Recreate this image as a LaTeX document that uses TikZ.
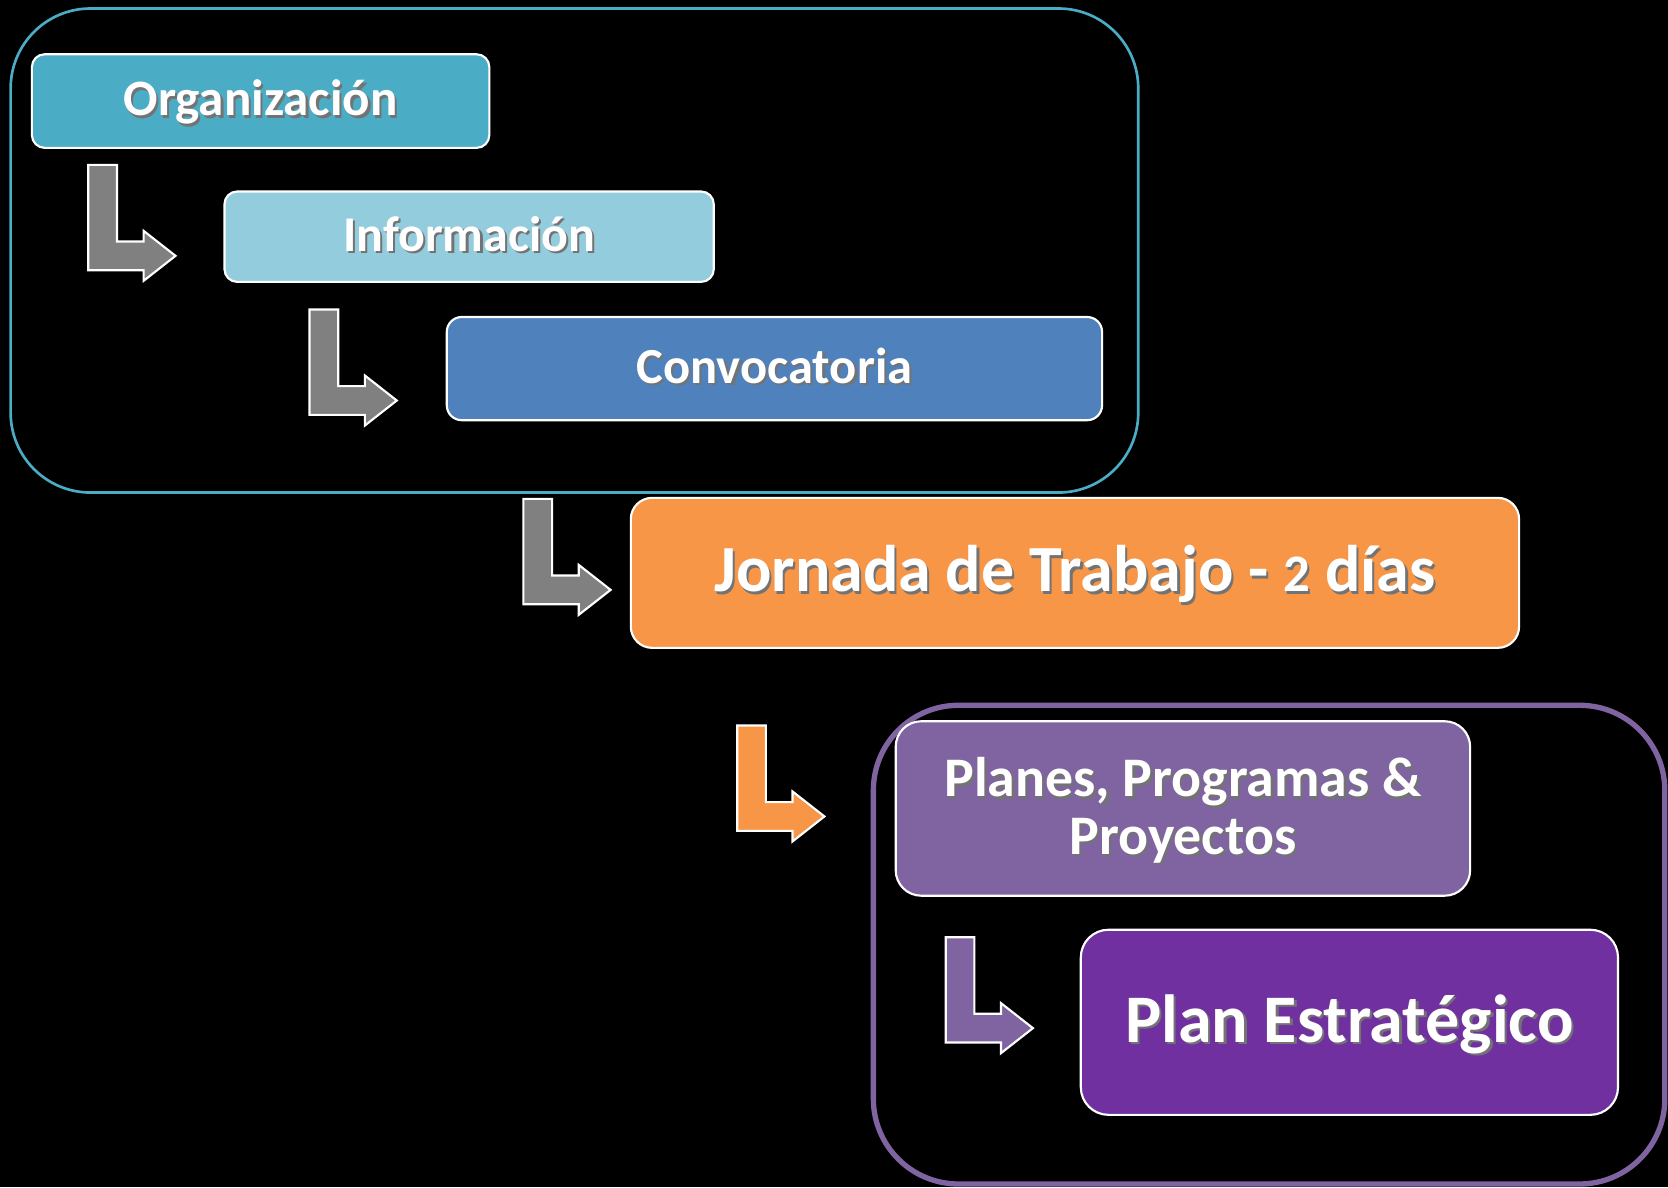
\documentclass[tikz,border=0pt]{standalone}
\usepackage{fontspec}
\setmainfont{Carlito}
\definecolor{orgc}{HTML}{4BACC6}
\definecolor{infc}{HTML}{93CDDD}
\definecolor{conc}{HTML}{4F81BD}
\definecolor{jorc}{HTML}{F79646}
\definecolor{plac}{HTML}{8064A2}
\definecolor{estc}{HTML}{7030A0}
\definecolor{arrgray}{HTML}{808080}
\newcommand\shtext[1]{\leavevmode\rlap{\hspace{2.2pt}\raisebox{-2.2pt}{\textcolor{black!55}{#1}}}#1}
\newcommand\oldtwo{\scalebox{0.8}{2}}
\begin{document}
\begin{tikzpicture}[x=1pt,y=-1pt,
  stepbox/.style={draw=white, line width=2pt, text=white, inner sep=0pt, align=center},
  groupbox/.style={line width=#1},
  pics/bentarrow/.style={code={
    \filldraw[fill=#1, draw=white, line width=2pt, line join=miter]
      (0,0) -- (27,0) -- (27,72) -- (52,72) -- (52,62) -- (82,85.5) -- (52,109) -- (52,99) -- (0,99) -- cycle;}}]
\fill[black] (0,0) rectangle (1568,1116);
\useasboundingbox (0,0) rectangle (1568,1116);
% group frames
\draw[orgc, groupbox=2.5pt, rounded corners=75pt] (10,8) rectangle (1070,463);
\draw[plac, groupbox=5pt, rounded corners=80pt] (821,663) rectangle (1565,1113);
% steps
\node[stepbox, fill=orgc, minimum width=430pt, minimum height=88pt, rounded corners=12pt,
  font=\bfseries\fontsize{48}{52}\selectfont, text height=32.6pt, text depth=4.8pt] (org) at (245,95) {\shtext{Organización}};
\node[stepbox, fill=infc, minimum width=460pt, minimum height=85pt, rounded corners=12pt,
  font=\bfseries\fontsize{47}{52}\selectfont, text height=32pt, text depth=4.7pt] (inf) at (441,222.5) {\shtext{Información}};
\node[stepbox, fill=conc, minimum width=616pt, minimum height=97pt, rounded corners=14pt,
  font=\bfseries\fontsize{47.5}{52}\selectfont, text height=32.3pt, text depth=4.75pt] (con) at (728,346.5) {\shtext{Convocatoria}};
\node[stepbox, fill=jorc, minimum width=835pt, minimum height=141pt, rounded corners=20pt,
  font=\bfseries\fontsize{62}{66}\selectfont, text height=42.2pt, text depth=6.2pt] (jor) at (1010.5,538.5) {\shtext{Jornada de Trabajo - \oldtwo{} días}};
\node[stepbox, fill=plac, minimum width=540pt, minimum height=164pt, rounded corners=24pt,
  label={[text=white, align=center, inner sep=0pt, yshift=-3pt,
    font=\bfseries\fontsize{52.5}{54}\selectfont]center:\shtext{Planes, Programas \&}\\\shtext{Proyectos}}] (pla) at (1112,760) {};
\node[stepbox, fill=estc, minimum width=505pt, minimum height=174pt, rounded corners=26pt,
  font=\bfseries\fontsize{64}{68}\selectfont, text height=43.5pt, text depth=6.4pt] (est) at (1268.5,961) {\shtext{Plan Estratégico}};
% bent arrows
\pic at (83,155) {bentarrow=arrgray};
\pic at (291,291) {bentarrow=arrgray};
\pic at (492,469) {bentarrow=arrgray};
\pic at (693,682) {bentarrow=jorc};
\pic at (889,881) {bentarrow=plac};
\end{tikzpicture}
\end{document}
